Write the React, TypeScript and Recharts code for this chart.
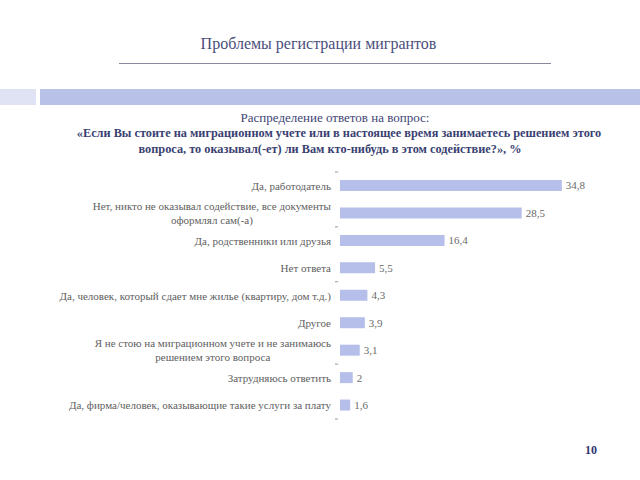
import { BarChart, Bar, XAxis, YAxis, LabelList } from 'recharts';

const categories = [
  'Да, работодатель',
  'Нет, никто не оказывал содействие, все документы\nоформлял сам(-а)',
  'Да, родственники или друзья',
  'Нет ответа',
  'Да, человек, который сдает мне жилье (квартиру, дом т.д.)',
  'Другое',
  'Я не стою на миграционном учете и не занимаюсь\nрешением этого вопроса',
  'Затрудняюсь ответить',
  'Да, фирма/человек, оказывающие такие услуги за плату',
];
const values = [34.8, 28.5, 16.4, 5.5, 4.3, 3.9, 3.1, 2, 1.6];
const xDomain = [0, 40];

const data = categories.map((name, i) => ({ name, value: values[i] }));

// small dashes the slide shows on the left of the bars
const dashAbove = [0, 2, 4, 7];
const dashBelow = [8];

const SERIF = '"Liberation Serif", "Times New Roman", Times, serif';
const PLOT_TOP = 172;
const PLOT_BOTTOM = 419;
const BAND = (PLOT_BOTTOM - PLOT_TOP) / categories.length;
const LABEL_FONT = '11px "Liberation Serif"';

let ctx: CanvasRenderingContext2D | null = null;
function textWidth(s: string) {
  if (!ctx) ctx = document.createElement('canvas').getContext('2d');
  if (!ctx) return s.length * 5;
  ctx.font = LABEL_FONT;
  return ctx.measureText(s).width;
}

function CategoryTick(props: any) {
  const { x, y, payload, index } = props;
  const lines = String(payload.value).split('\n');
  const right = x - 1;
  const maxW = Math.max(...lines.map(textWidth));
  return (
    <g>
      {lines.map((line, i) => {
        const ly = y + (i - (lines.length - 1) / 2) * 14;
        const multi = lines.length > 1;
        return (
          <text
            key={i}
            x={multi ? right - maxW / 2 : right}
            y={ly}
            dy={4}
            textAnchor={multi ? 'middle' : 'end'}
            style={{ fontFamily: SERIF, fontSize: 11 }}
            fill="#606060"
          >
            {line}
          </text>
        );
      })}
      {dashAbove.includes(index) && (
        <line x1={x + 3} x2={x + 6} y1={y - BAND / 2} y2={y - BAND / 2} stroke="#999" />
      )}
      {dashBelow.includes(index) && (
        <line x1={x + 3} x2={x + 6} y1={y + BAND / 2} y2={y + BAND / 2} stroke="#999" />
      )}
    </g>
  );
}

export default function App() {
  const txt = { position: 'absolute' as const, left: 0, textAlign: 'center' as const, fontFamily: SERIF };
  const bold = { ...txt, fontSize: 12.3, fontWeight: 'bold' as const, color: '#3a3f72' };
  return (
    <div style={{ position: 'absolute', left: 0, top: 0, width: 640, height: 480, background: '#fff', overflow: 'hidden' }}>
      <div style={{ ...txt, top: 35, width: 637, fontSize: 16, color: '#4b4f7d' }}>
        Проблемы регистрации мигрантов
      </div>
      <div style={{ position: 'absolute', top: 63, left: 119, width: 432, height: 1, background: '#8a8a9e' }} />
      <div style={{ position: 'absolute', top: 89, left: 0, width: 36, height: 16, background: '#dfe3f3' }} />
      <div style={{ position: 'absolute', top: 89, left: 40, width: 600, height: 16, background: '#b8c1e8' }} />
      <div style={{ ...txt, top: 110, width: 670, fontSize: 13, color: '#3e4476' }}>
        Распределение ответов на вопрос:
      </div>
      <div style={{ ...bold, top: 126, width: 678 }}>
        «Если Вы стоите на миграционном учете или в настоящее время занимаетесь решением этого
      </div>
      <div style={{ ...bold, top: 142, width: 660 }}>
        вопроса, то оказывал(-ет) ли Вам кто-нибудь в этом содействие?», %
      </div>
      <div style={{ position: 'absolute', top: 443, left: 585, fontFamily: SERIF, fontSize: 12, fontWeight: 'bold', color: '#2f3570' }}>10</div>
      <div style={{ position: 'absolute', left: 0, top: 0 }}>
        <BarChart
          width={640}
          height={480}
          data={data}
          layout="vertical"
          margin={{ top: PLOT_TOP, right: 45, left: 0, bottom: 480 - PLOT_BOTTOM }}
        >
          <XAxis type="number" domain={xDomain} hide />
          <YAxis
            type="category"
            dataKey="name"
            width={340}
            axisLine={false}
            tickLine={false}
            tick={<CategoryTick />}
            interval={0}
          />
          <Bar dataKey="value" fill="#b6bfe9" barSize={11} isAnimationActive={false}>
            <LabelList
              dataKey="value"
              position="right"
              offset={4}
              formatter={(v: any) => String(v).replace('.', ',')}
              style={{ fontFamily: SERIF, fontSize: 11, fill: '#6a6a6a' }}
            />
          </Bar>
        </BarChart>
      </div>
    </div>
  );
}
